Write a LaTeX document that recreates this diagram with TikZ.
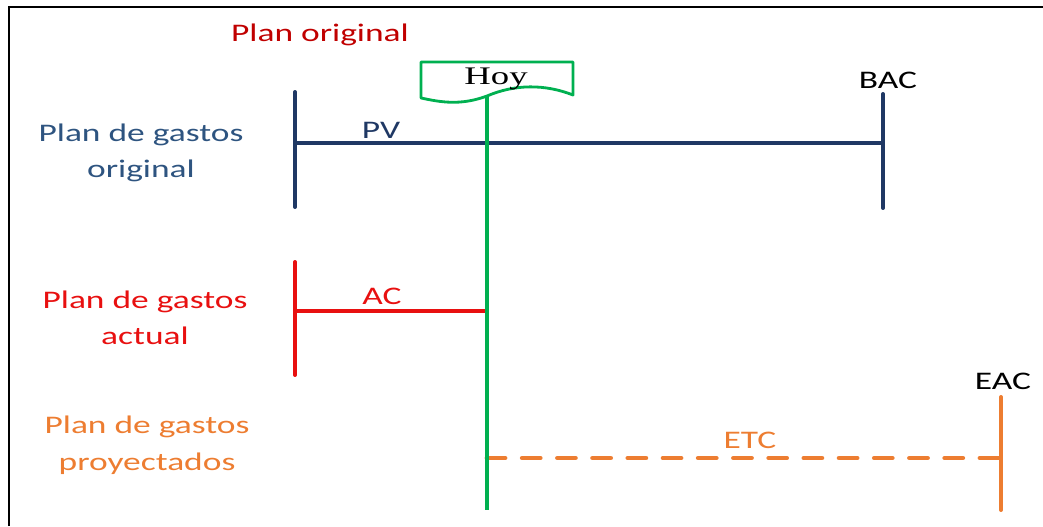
\documentclass[tikz,border=0pt]{standalone}
\usepackage{fontspec}
\setmainfont[FakeStretch=1.4]{Carlito}
\newfontfamily\hoyfont[FakeStretch=1.45]{Liberation Serif}
\usetikzlibrary{positioning}
\definecolor{planred}{RGB}{192,0,0}
\definecolor{pvblue}{RGB}{31,56,100}
\definecolor{pvtext}{RGB}{46,84,128}
\definecolor{acred}{RGB}{232,16,16}
\definecolor{etcorange}{RGB}{237,125,49}
\definecolor{hoygreen}{RGB}{0,176,80}

\begin{document}
\begin{tikzpicture}[x=0.025cm, y=-0.025cm,
  lbl/.style={font=\fontsize{18}{26}\selectfont, align=center, inner sep=0pt},
  bar/.style={line width=2.8pt, line cap=round},
  etcline/.style={line width=3.4pt, line cap=round, etcorange, dash pattern=on 0.45cm off 0.43cm}
]
\useasboundingbox (0,0) rectangle (1043,526);
\draw[line width=1.6pt] (9,526) -- (9,7) -- (1043,7);

% labels on the left
\node[lbl, text=planred] (orig)  at (320,35)  {Plan original};
\node[lbl, text=pvtext]  (pvlab) at (141,153) {Plan de gastos\\original};
\node[lbl, text=acred]   (aclab) at (145,318) {Plan de gastos\\actual};
\node[lbl, text=etcorange] (etclab) at (147,445) {Plan de gastos\\proyectados};

% end points
\coordinate (pvtop)  at (295,92);
\coordinate (pvbot)  at (295,207);
\coordinate (pvl)    at (295,143);
\coordinate (pvr)    at (883,143);
\coordinate (bactop) at (883,94);
\coordinate (bacbot) at (883,208);
\coordinate (actop)  at (295,262);
\coordinate (acbot)  at (295,375);
\coordinate (acl)    at (295,311);
\coordinate (acr)    at (487,311);
\coordinate (hoyb)   at (487,96);
\coordinate (hoye)   at (487,510);
\coordinate (etcl)   at (487,458);
\coordinate (etcr)   at (1001,458);
\coordinate (eactop) at (1001,397);
\coordinate (eacbot) at (1001,510);

% original plan
\draw[bar, pvblue] (pvtop) -- (pvbot);
\draw[bar, pvblue] (pvl) -- (pvr);
\draw[bar, pvblue] (bactop) -- (bacbot);
\node[lbl, text=pvblue] (pv)  at (381,130) {PV};
\node[lbl] (bac) at (888,80) {BAC};

% actual
\draw[bar, acred] (actop) -- (acbot);
\draw[bar, acred] (acl) -- (acr);
\node[lbl, text=acred] (ac) at (382,296) {AC};

% projected
\draw[bar, etcorange] (eactop) -- (eacbot);
\draw[etcline] (etcl) -- (etcr);
\node[lbl, text=etcorange] (etc) at (750,440) {ETC};
\node[lbl] (eac) at (1003,381) {EAC};

% today
\draw[line width=2.4pt, hoygreen] (hoyb) -- (hoye);
\draw[line width=2pt, hoygreen, fill=white, line join=round]
  (421,62) -- (573,62) -- (573,95)
  .. controls (545,84) and (515,84) .. (487,96)
  .. controls (460,106) and (440,102) .. (421,98) -- cycle;
\node[font=\hoyfont\fontsize{18}{22}\selectfont, inner sep=0pt, anchor=base] (hoy) at (496,84) {Hoy};
\end{tikzpicture}
\end{document}
